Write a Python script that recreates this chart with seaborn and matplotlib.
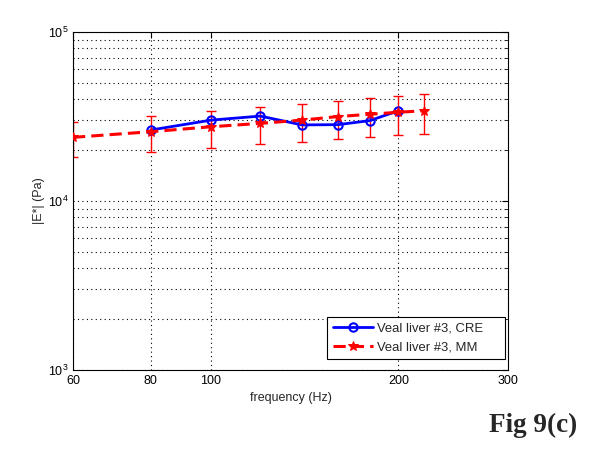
import numpy as np
import pandas as pd
import matplotlib
matplotlib.use('Agg')
import matplotlib.pyplot as plt
import seaborn as sns
from matplotlib.ticker import FixedLocator, FixedFormatter, NullFormatter, LogLocator

# data
freq_cre = [80, 100, 120, 140, 160, 180, 200]
e_cre = [26300, 30100, 31800, 28200, 28300, 29900, 34200]

freq_mm = [60, 80, 100, 120, 140, 160, 180, 200, 220]
e_mm = [23800, 25700, 27500, 28800, 30100, 31600, 32600, 33500, 34200]
e_mm_hi = [29300, 31800, 34000, 35800, 37300, 38900, 40500, 41800, 42800]
e_mm_lo = [18200, 19500, 20500, 21700, 22300, 23200, 23900, 24600, 25000]

x_ticks = [60, 80, 100, 200, 300]

sns.set_style('white')
plt.rcParams['font.family'] = ['Liberation Sans', 'DejaVu Sans']
plt.rcParams['font.size'] = 9

fig = plt.figure(figsize=(5.9, 4.5), dpi=100)
ax = fig.add_axes([0.1237, 0.1778, 0.7373, 0.7511])

df_cre = pd.DataFrame({'f': freq_cre, 'E': e_cre})
df_mm = pd.DataFrame({'f': freq_mm, 'E': e_mm})

sns.lineplot(data=df_cre, x='f', y='E', ax=ax, color='#0000ff', linewidth=2,
             marker='o', markersize=6, markerfacecolor='none',
             markeredgecolor='#0000ff', markeredgewidth=1.5,
             label='Veal liver #3, CRE', zorder=3)

err = [np.array(e_mm) - np.array(e_mm_lo), np.array(e_mm_hi) - np.array(e_mm)]
ax.errorbar(freq_mm, e_mm, yerr=err, fmt='none', ecolor='#ff0000',
            elinewidth=1, capsize=3.6, capthick=1, zorder=2)
sns.lineplot(data=df_mm, x='f', y='E', ax=ax, color='#ff0000', linewidth=2.2,
             linestyle='--', marker='*', markersize=7,
             markerfacecolor='#ff0000', markeredgecolor='#ff0000',
             label='Veal liver #3, MM', zorder=4)
ax.lines[-1].set_dashes([4, 2])

ax.set_xscale('log')
ax.set_yscale('log')
ax.set_xlim(60, 300)
ax.set_ylim(1e3, 1e5)

ax.xaxis.set_major_locator(FixedLocator(x_ticks))
ax.xaxis.set_major_formatter(FixedFormatter([str(t) for t in x_ticks]))
ax.xaxis.set_minor_locator(FixedLocator([]))
ax.xaxis.set_minor_formatter(NullFormatter())
ax.yaxis.set_major_locator(LogLocator(base=10))
ax.yaxis.set_minor_locator(LogLocator(base=10, subs=np.arange(2, 10)))
ax.yaxis.set_minor_formatter(NullFormatter())

ax.grid(True, which='major', axis='both', color='black', linestyle=(0, (1, 3)), linewidth=0.8)
ax.grid(True, which='minor', axis='y', color='black', linestyle=(0, (1, 3)), linewidth=0.8)

ax.tick_params(which='both', direction='in', top=True, right=True, colors='black',
               labelsize=9)
ax.tick_params(which='major', length=4)
ax.tick_params(which='minor', length=2)
for s in ax.spines.values():
    s.set_color('black')
    s.set_linewidth(0.8)

ax.set_xlabel('frequency (Hz)', fontsize=9, labelpad=4)
ax.set_ylabel('|E*| (Pa)', fontsize=9, labelpad=2)

leg = ax.legend(loc='lower left', bbox_to_anchor=(0.584, 0.0325, 0.409, 0.13),
                mode='expand', frameon=True, fancybox=False, fontsize=9.4,
                edgecolor='black', framealpha=1, handlelength=3.1,
                handletextpad=0.3, borderaxespad=0, borderpad=0.45,
                labelspacing=0.46)
leg.get_frame().set_linewidth(0.8)

fig.text(0.978, 0.04, 'Fig 9(c)', ha='right', va='baseline',
         fontfamily='Liberation Serif', fontweight='bold', fontsize=19.5)

fig.savefig('out.png', dpi=100)
